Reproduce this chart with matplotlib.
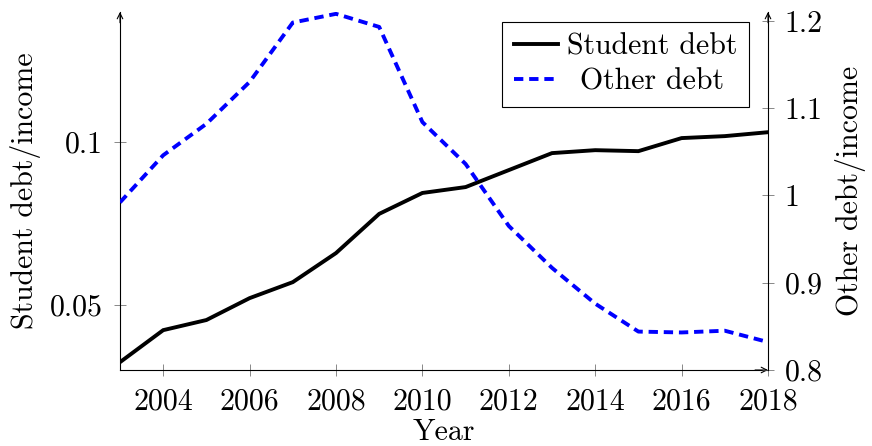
import matplotlib
matplotlib.use("Agg")
import matplotlib.pyplot as plt

# data
years = list(range(2003, 2019))
student_debt = [0.0325, 0.0423, 0.0454, 0.0521, 0.0570, 0.0659, 0.0779, 0.0843,
                0.0861, 0.0913, 0.0965, 0.0974, 0.0971, 0.1011, 0.1017, 0.1029]
other_debt = [0.992, 1.046, 1.082, 1.130, 1.198, 1.208, 1.193, 1.084,
              1.036, 0.965, 0.917, 0.876, 0.844, 0.843, 0.845, 0.832]

xticks = [2004, 2006, 2008, 2010, 2012, 2014, 2016, 2018]
left_ticks = [0.05, 0.1]
left_labels = ["0.05", "0.1"]
right_ticks = [0.8, 0.9, 1.0, 1.1, 1.2]
right_labels = ["0.8", "0.9", "1", "1.1", "1.2"]

plt.rcParams['font.family'] = ['cmr10', 'DejaVu Serif']
plt.rcParams['axes.formatter.use_mathtext'] = True
fs = 21.5

fig = plt.figure(figsize=(8.72, 4.46), dpi=100)
ax = fig.add_axes([120 / 872, 1 - 370 / 446, 648 / 872, 358 / 446])
ax2 = ax.twinx()

l1, = ax.plot(years, student_debt, color='black', lw=2.8, solid_joinstyle='miter')
l2, = ax2.plot(years, other_debt, color='blue', lw=2.8, dashes=(2.4, 1.5))

ax.set_xlim(2003, 2018)
ax.set_ylim(0.0301, 0.1397)
ax2.set_ylim(0.8, 1.2101)

ax.set_xticks(xticks)
ax.set_xticklabels([str(y) for y in xticks])
ax.set_yticks(left_ticks)
ax.set_yticklabels(left_labels)
ax2.set_yticks(right_ticks)
ax2.set_yticklabels(right_labels)

for a in (ax, ax2):
    a.spines['top'].set_visible(False)
    for s in a.spines.values():
        s.set_linewidth(0.8)
    a.tick_params(direction='inout', length=8, width=0.5, color='0.35',
                  labelsize=fs, pad=8)
ax.spines['right'].set_visible(False)
ax2.spines['left'].set_visible(False)
ax2.spines['bottom'].set_visible(False)
ax.tick_params(axis='x', pad=9)

ax.set_xlabel("Year", fontsize=fs, labelpad=2)
ax.set_ylabel("Student debt/income", fontsize=fs, labelpad=7)
ax2.set_ylabel("Other debt/income", fontsize=fs, labelpad=9)

# arrow tips on the axis lines
arrow = dict(arrowstyle='->', lw=0.8, color='black', shrinkA=0, shrinkB=0,
             mutation_scale=10)
ax.annotate('', xy=(0, 1), xytext=(0, 0.97), xycoords='axes fraction', arrowprops=arrow)
ax.annotate('', xy=(1, 1), xytext=(1, 0.97), xycoords='axes fraction', arrowprops=arrow)
ax.annotate('', xy=(1, 0), xytext=(0.98, 0), xycoords='axes fraction', arrowprops=arrow)

leg = ax.legend([l1, l2], ["Student debt", "Other debt"], loc='upper right',
                bbox_to_anchor=(0.9707, 0.972), borderaxespad=0, fontsize=fs,
                fancybox=False, edgecolor='black', framealpha=1,
                handlelength=1.5, handletextpad=0.3, borderpad=0.38,
                labelspacing=0.25)
leg.get_frame().set_linewidth(0.8)
leg.set_zorder(5)

# center legend entries like pgfplots does
fig.canvas.draw()
r = fig.canvas.get_renderer()
widths = [t.get_window_extent(r).width for t in leg.get_texts()]
wmax = max(widths)
for t, w in zip(leg.get_texts(), widths):
    t.set_x((wmax - w) / 2)

fig.savefig("out.png", dpi=100)
